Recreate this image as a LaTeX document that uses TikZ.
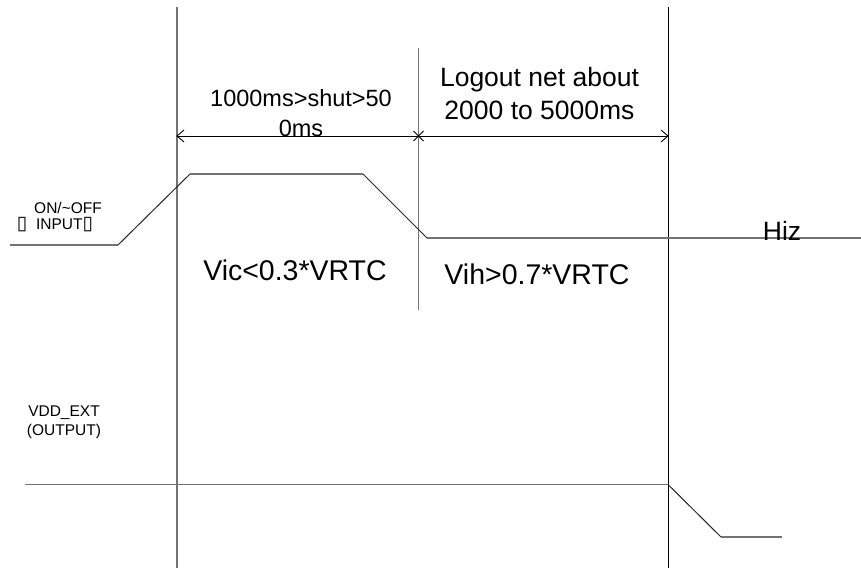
\documentclass[tikz,border=0pt]{standalone}
\usepackage{fontspec}
\setmainfont{Liberation Sans}
\newfontfamily\symfont{DejaVu Sans}
\newcommand{\tofu}{{\symfont\fontsize{19bp}{19bp}\selectfont ▯}}
\begin{document}
\begin{tikzpicture}[x=1bp,y=-1bp,
  guide/.style={draw=black!55,line width=1.6bp},
  guidek/.style={draw=black,line width=1bp},
  level/.style={draw=black!55,line width=1.3bp},
  slope/.style={draw=black!85,line width=1bp},
  dim/.style={draw=black,line width=0.9bp},
  big/.style={inner sep=0pt,anchor=base,font=\fontsize{26.5bp}{32bp}\selectfont},
  vbig/.style={inner sep=0pt,anchor=base,font=\fontsize{28.5bp}{32bp}\selectfont},
  mid/.style={inner sep=0pt,anchor=base,font=\fontsize{23.5bp}{30bp}\selectfont},
  small/.style={inner sep=0pt,anchor=base,font=\fontsize{15.5bp}{18bp}\selectfont}]
\useasboundingbox (0,0) rectangle (861,572);
% vertical guides
\coordinate (v1t) at (177,7);   \coordinate (v1b) at (177,568);
\coordinate (v2t) at (418.5,48); \coordinate (v2b) at (418.5,310);
\coordinate (v3t) at (668,7);   \coordinate (v3b) at (668,568);
\draw[guide] (v1t) -- (v1b);
\draw[guide] (v2t) -- (v2b);
\draw[guidek] (v3t) -- (v3b);
% dimension line
\coordinate (d1) at (177,136); \coordinate (d2) at (418.5,136); \coordinate (d3) at (668,136);
\draw[dim] (d1) -- (d3);
\draw[dim] (d1) ++(7,-6) -- (d1) -- ++(7,6);
\draw[dim] (d3) ++(-7,-6) -- (d3) -- ++(-7,6);
\draw[dim] (d2) ++(-5,-5) -- ++(10,10);
\draw[dim] (d2) ++(-5,5) -- ++(10,-10);
% ON/~OFF signal
\coordinate (a0) at (10,245); \coordinate (a1) at (118,245);
\coordinate (a2) at (190,174); \coordinate (a3) at (363,174);
\coordinate (a4) at (427,238); \coordinate (a5) at (861,238);
\draw[level] (a0) -- (a1);
\draw[slope] (a1) -- (a2);
\draw[level] (a2) -- (a3);
\draw[slope] (a3) -- (a4);
\draw[level] (a4) -- (a5);
% VDD_EXT signal
\coordinate (b0) at (25,484.5); \coordinate (b1) at (668,484.5);
\coordinate (b2) at (721,537); \coordinate (b3) at (782,537);
\draw[level] (b0) -- (b1);
\draw[slope] (b1) -- (b2);
\draw[level] (b2) -- (b3);
% texts
\node[mid] (s1) at (301,107) {1000ms>shut>50};
\node[mid] (s2) at (301,137) {0ms};
\node[big] (l1) at (539.5,87) {Logout net about};
\node[big] (l2) at (539.5,120) {2000 to 5000ms};
\node[vbig] (vic) at (295,280) {Vic<0.3*VRTC};
\node[vbig] (vih) at (537,284) {Vih>0.7*VRTC};
\node[big] (hiz) at (782,240.5) {Hiz};
\node[small] (on1) at (68,214) {ON/\textasciitilde OFF};
\node[small] (on2) at (55,230) {\tofu\ \ INPUT\tofu};
\node[small] (vd1) at (64,416) {VDD\_EXT};
\node[small] (vd2) at (64,435) {(OUTPUT)};
\end{tikzpicture}
\end{document}
